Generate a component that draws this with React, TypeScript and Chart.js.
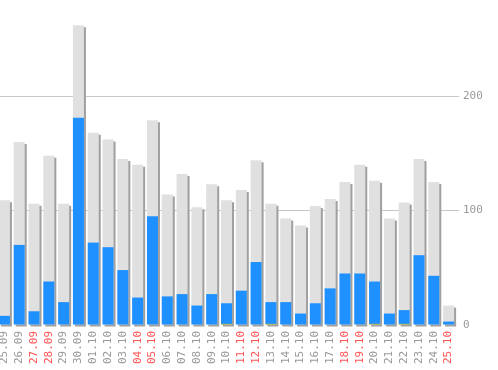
import React, { useEffect, useRef } from "react";
import { Chart, registerables } from "chart.js";

Chart.register(...registerables);

const categories = [
  "25.09", "26.09", "27.09", "28.09", "29.09", "30.09",
  "01.10", "02.10", "03.10", "04.10", "05.10", "06.10", "07.10", "08.10", "09.10", "10.10",
  "11.10", "12.10", "13.10", "14.10", "15.10", "16.10", "17.10", "18.10", "19.10", "20.10",
  "21.10", "22.10", "23.10", "24.10", "25.10",
];
const weekendLabels = ["27.09", "28.09", "04.10", "05.10", "11.10", "12.10", "18.10", "19.10", "25.10"];

const totalValues = [109, 160, 106, 148, 106, 262, 168, 162, 145, 140, 179, 114, 132, 103, 123, 109, 118, 144, 106, 93, 87, 104, 110, 125, 140, 126, 93, 107, 145, 125, 17];
const blueValues = [8, 70, 12, 38, 20, 181, 72, 68, 48, 24, 95, 25, 27, 17, 27, 19, 30, 55, 20, 20, 10, 19, 32, 45, 45, 38, 10, 13, 61, 43, 3];
const yellowValues = [0, 0, 0, 0, 0, 0, 0, 0, 0, 0, 0, 0, 0, 0, 0, 1, 0, 0, 1, 0, 0, 0, 0, 0, 0, 1, 0, 1, 0, 0, 0];

const yTicks = [0, 100, 200];
const yMax = 284;

const shadowPlugin = {
  id: "barShadow",
  beforeDatasetDraw(chart: any, args: any) {
    if (args.index === 2) {
      const ctx = chart.ctx;
      ctx.save();
      ctx.shadowColor = "#a0a0a0";
      ctx.shadowOffsetX = 2;
      ctx.shadowOffsetY = 2;
      ctx.shadowBlur = 0;
    }
  },
  afterDatasetDraw(chart: any, args: any) {
    if (args.index === 2) {
      chart.ctx.restore();
    }
  },
};

export default function App() {
  const canvasRef = useRef<HTMLCanvasElement | null>(null);

  useEffect(() => {
    document.body.style.margin = "0";
    const canvas = canvasRef.current;
    if (!canvas) return;
    const font = { family: "'DejaVu Sans Mono', monospace", size: 11 };
    const chart = new Chart(canvas, {
      type: "bar",
      data: {
        labels: categories,
        datasets: [
          {
            data: yellowValues,
            backgroundColor: "#ffcc00",
            grouped: false,
            clip: false,
            categoryPercentage: 1,
            barPercentage: 0.744,
          } as any,
          {
            data: blueValues,
            backgroundColor: "#1e90ff",
            grouped: false,
            clip: false,
            categoryPercentage: 1,
            barPercentage: 0.744,
          } as any,
          {
            data: totalValues,
            backgroundColor: "#e0e0e0",
            grouped: false,
            clip: false,
            categoryPercentage: 1,
            barPercentage: 0.744,
          } as any,
        ],
      },
      options: {
        animation: false,
        responsive: false,
        layout: { padding: 0 },
        plugins: {
          legend: { display: false },
          tooltip: { enabled: false },
        },
        scales: {
          x: {
            offset: true,
            grid: { display: false, drawTicks: false },
            border: { display: false },
            ticks: {
              minRotation: 90,
              maxRotation: 90,
              autoSkip: false,
              padding: 6,
              font,
              color: (c: any) =>
                weekendLabels.includes(categories[c.index]) ? "#ff5555" : "#999999",
            },
            afterFit: (s: any) => {
              s.height = 45;
              s.paddingLeft = 0;
              s.paddingRight = 0;
            },
          },
          y: {
            position: "right",
            min: 0,
            max: yMax,
            border: { display: false },
            grid: {
              color: (c: any) => (c.tick && c.tick.value === 0 ? "rgba(0,0,0,0)" : "#c8c8c8"),
              tickLength: 3,
            },
            ticks: {
              font,
              color: "#999999",
              padding: 4,
            },
            afterBuildTicks: (s: any) => {
              s.ticks = yTicks.map((v) => ({ value: v }));
            },
            afterFit: (s: any) => {
              s.width = 42;
              s.paddingTop = 0;
              s.paddingBottom = 0;
            },
          },
        },
      },
      plugins: [shadowPlugin],
    });
    return () => chart.destroy();
  }, []);

  return (
    <div style={{ position: "relative", width: 498, height: 370, overflow: "hidden" }}>
      <canvas
        ref={canvasRef}
        width={501}
        height={370}
        style={{ position: "absolute", left: -3, top: 0, width: 501, height: 370 }}
      />
    </div>
  );
}
